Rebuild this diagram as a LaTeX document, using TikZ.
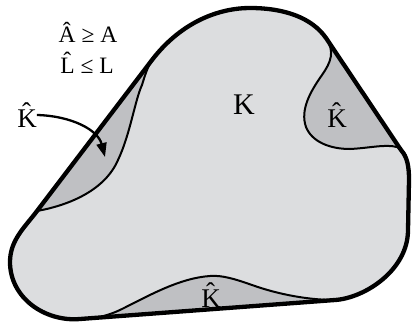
\documentclass[tikz,border=0pt]{standalone}
\usepackage{fontspec}
\setmainfont{Liberation Serif}
\usetikzlibrary{arrows.meta}
\definecolor{kfill}{RGB}{220,221,223}
\definecolor{khat}{RGB}{191,192,195}
\begin{document}
\begin{tikzpicture}[x=1pt,y=-1pt,
  hull/.style={line width=4.3pt,line join=round},
  thin/.style={line width=2pt},
  lbl/.style={inner sep=0pt,anchor=base},
  big/.style={lbl,font=\fontsize{30}{32}\selectfont},
  hatk/.style={lbl,font=\fontsize{27}{29}\selectfont},
  formula/.style={lbl,font=\fontsize{23.5}{26}\selectfont},
  pointer/.style={line width=2.3pt,-{Triangle[length=14pt,width=10pt]}}]
\useasboundingbox (0,0) rectangle (412,324);
% hull region (K hat colour)
\fill[khat] (37,211) -- (152,60) .. controls (182,21) and (220,8) .. (250,8)
  .. controls (285,8) and (312,18) .. (326,38) -- (401,150)
  .. controls (407,157) and (409,165) .. (409,180) -- (408,230)
  .. controls (408,270) and (365,298) .. (335,300) -- (80,319)
  .. controls (45,322) and (10,298) .. (10,262)
  .. controls (10,240) and (25,227) .. (37,211) -- cycle;
% K region
\filldraw[kfill,draw=black,thin] (37,211)
  .. controls (70,205) and (105,190) .. (118,160)
  .. controls (130,135) and (135,100) .. (142,85)
  .. controls (145,75) and (148,66) .. (152,60)
  .. controls (182,21) and (220,8) .. (250,8)
  .. controls (285,8) and (312,18) .. (326,38)
  .. controls (335,52) and (331,62) .. (322,75)
  .. controls (310,92) and (300,110) .. (306,127)
  .. controls (312,142) and (330,149) .. (350,149)
  .. controls (370,148) and (385,144) .. (397,147)
  .. controls (402,149) and (405,153) .. (406,156)
  .. controls (408,162) and (409,168) .. (409,180) -- (408,230)
  .. controls (408,270) and (365,298) .. (335,300)
  .. controls (310,300) and (280,295) .. (252,285)
  .. controls (235,279) and (222,275) .. (210,276)
  .. controls (180,278) and (150,295) .. (122,309)
  .. controls (108,316) and (94,319) .. (80,319)
  .. controls (45,322) and (10,298) .. (10,262)
  .. controls (10,240) and (25,227) .. (37,211) -- cycle;
% hull outline
\draw[hull] (37,211) -- (152,60) .. controls (182,21) and (220,8) .. (250,8)
  .. controls (285,8) and (312,18) .. (326,38) -- (401,150)
  .. controls (407,157) and (409,165) .. (409,180) -- (408,230)
  .. controls (408,270) and (365,298) .. (335,300) -- (80,319)
  .. controls (45,322) and (10,298) .. (10,262)
  .. controls (10,240) and (25,227) .. (37,211) -- cycle;
% labels
\node[formula] (area) at (88,42) {Â ≥ A};
\node[formula] (len) at (87,73) {\^{L} ≤ L};
\node[big] (k) at (244,114) {K};
\node[hatk] (kr) at (337,127) {\^{K}};
\node[hatk] (kb) at (211,307) {\^{K}};
\node[hatk] (kl) at (27,127) {\^{K}};
\coordinate (tip) at (105,157);
\draw[pointer] (kl.east) .. controls (72,116) and (98,130) .. (tip);
\end{tikzpicture}
\end{document}
